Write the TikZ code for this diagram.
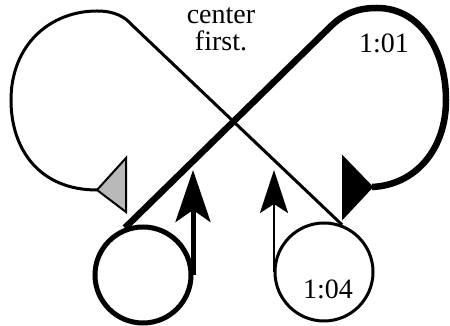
\documentclass[tikz,border=0pt]{standalone}
\usepackage{fontspec}
\setmainfont{Liberation Serif}
\usetikzlibrary{arrows.meta}
\tikzset{
  ballthin/.style   = {circle, draw, line width=3pt, minimum size=98pt, inner sep=0pt},
  ballthick/.style  = {circle, draw, line width=5pt, minimum size=96pt, inner sep=0pt},
  loopthin/.style   = {line width=3pt},
  loopthick/.style  = {line width=6.5pt},
  bigarrow/.style   = {-{Stealth[length=52pt, width=35pt, inset=12pt]}, line width=5pt},
  smallarrow/.style = {-{Stealth[length=43pt, width=28pt, inset=9pt]}, line width=2.8pt},
  marker/.style     = {draw, line width=2pt, line join=miter},
  lab/.style        = {font=\fontsize{28}{27}\selectfont, inner sep=0pt},
}

\begin{document}
\begin{tikzpicture}[x=1pt, y=1pt]
  \useasboundingbox (0,0) rectangle (450,326);
  \node[ballthick] (lball) at (143,51) {};
  \node[ballthin]  (rball) at (324,54) {};
  \node[lab] (t104) at ([shift={(4,-17)}]rball.center) {1:04};
  \node[lab] (t101) at (384,283) {1:01};
  \node[lab, align=center] (note) at (221,297) {center\\first.};

  \coordinate (ltip) at (193,156);
  \coordinate (rtip) at (274,156);
  \draw[bigarrow] (lball.east -| ltip) -- (ltip);
  \draw[smallarrow] (rball.west -| rtip) -- (rtip);

  % markers where the two loops end
  \coordinate (lmark) at (97,136);
  \coordinate (rmark) at (372,139);
  \filldraw[marker, fill=gray!55] (lmark) -- (126,168) -- (126,114) -- cycle;
  \filldraw[marker, fill=black] (rmark) -- (343,169) -- (343,108) -- cycle;

  \draw[loopthin] (lmark) .. controls (40,136) and (11,176) .. (11,226)
    .. controls (11,281) and (50,315) .. (97,315)
    .. controls (115,315) and (125,309) .. (132,301) -- (rball.69);
  \draw[loopthick] (lball.111) -- (330,299)
    .. controls (345,314) and (360,318) .. (377,318)
    .. controls (420,318) and (446,276) .. (446,226)
    .. controls (446,176) and (415,141) .. (rmark);
\end{tikzpicture}
\end{document}
